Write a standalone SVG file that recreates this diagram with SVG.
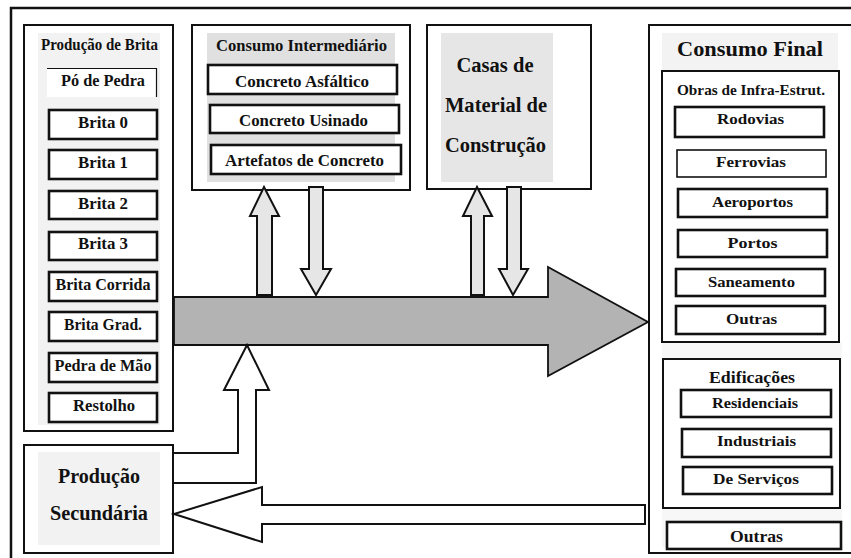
<svg xmlns="http://www.w3.org/2000/svg" width="851" height="558" viewBox="0 0 851 558">
<style>
text{font-family:"Liberation Serif","Times New Roman",serif;font-weight:bold;fill:#111;text-anchor:middle}
.frame{fill:#fff;stroke:#111;stroke-width:2.5}
.box{fill:#fff;stroke:#111;stroke-width:2}
.item{fill:#fff;stroke:#111;stroke-width:2.6}
.thin{fill:#fff;stroke:#111;stroke-width:1.6}
.t15{font-size:15px}
.t16{font-size:16px}
.t20{font-size:20px}
.up{fill:#e6e6e6;stroke:#111;stroke-width:2;stroke-linejoin:miter}
</style>
<rect x="0" y="0" width="851" height="558" fill="#fff"/>
<rect class="frame" x="11" y="8" width="860" height="570"/>

<g id="producao-brita">
<rect class="box" x="24" y="25" width="149" height="406"/>
<rect x="38" y="33" width="122" height="392" fill="#f2f2f2"/>
<text class="t16" x="99.5" y="50" textLength="117" lengthAdjust="spacingAndGlyphs">Produção de Brita</text>
<rect x="47" y="68" width="110" height="29" fill="#fff"/>
<polyline points="47,68.5 156.5,68.5 156.5,97" fill="none" stroke="#111" stroke-width="1.2"/>
<text class="t16" x="103" y="86" textLength="84" lengthAdjust="spacingAndGlyphs">Pó de Pedra</text>
<rect class="item" x="49" y="110" width="108" height="29"/>
<text class="t16" x="103" y="128" textLength="50" lengthAdjust="spacingAndGlyphs">Brita 0</text>
<rect class="item" x="49" y="150" width="108" height="29"/>
<text class="t16" x="103" y="168" textLength="50" lengthAdjust="spacingAndGlyphs">Brita 1</text>
<rect class="item" x="49" y="191" width="108" height="28"/>
<text class="t16" x="103" y="209" textLength="50" lengthAdjust="spacingAndGlyphs">Brita 2</text>
<rect class="item" x="49" y="232" width="108" height="28"/>
<text class="t16" x="103" y="249" textLength="50" lengthAdjust="spacingAndGlyphs">Brita 3</text>
<rect class="item" x="49" y="272" width="108" height="29"/>
<text class="t16" x="103" y="290" textLength="95" lengthAdjust="spacingAndGlyphs">Brita Corrida</text>
<rect class="item" x="49" y="312" width="108" height="29"/>
<text class="t16" x="103" y="330" textLength="78" lengthAdjust="spacingAndGlyphs">Brita Grad.</text>
<rect class="item" x="49" y="353" width="108" height="29"/>
<text class="t16" x="103" y="371" textLength="97" lengthAdjust="spacingAndGlyphs">Pedra de Mão</text>
<rect class="item" x="49" y="393" width="108" height="29"/>
<text class="t16" x="104" y="411" textLength="62" lengthAdjust="spacingAndGlyphs">Restolho</text>
</g>

<g id="consumo-intermediario">
<rect class="box" x="192" y="25" width="218" height="165"/>
<rect x="207" y="33" width="188" height="149" fill="#e0e0e0"/>
<text class="t16" x="301.5" y="51" textLength="171" lengthAdjust="spacingAndGlyphs">Consumo Intermediário</text>
<rect class="item" x="208" y="65" width="189" height="29"/>
<text class="t16" x="302" y="87" textLength="134" lengthAdjust="spacingAndGlyphs">Concreto Asfáltico</text>
<rect class="item" x="210" y="105" width="189" height="28"/>
<text class="t16" x="303.5" y="126" textLength="129" lengthAdjust="spacingAndGlyphs">Concreto Usinado</text>
<rect class="item" x="211" y="145" width="190" height="29"/>
<text class="t16" x="304.5" y="166" textLength="159" lengthAdjust="spacingAndGlyphs">Artefatos de Concreto</text>
</g>

<g id="casas-material">
<rect class="box" x="427" y="25" width="164" height="164"/>
<rect x="441" y="33" width="112" height="149" fill="#e6e6e6"/>
<text class="t20" x="495" y="72" textLength="77" lengthAdjust="spacingAndGlyphs">Casas de</text>
<text class="t20" x="496" y="112" textLength="102" lengthAdjust="spacingAndGlyphs">Material de</text>
<text class="t20" x="495.5" y="152" textLength="101" lengthAdjust="spacingAndGlyphs">Construção</text>
</g>

<g id="consumo-final">
<rect class="box" x="649" y="25" width="210" height="528"/>
<rect x="662" y="33" width="176" height="37" fill="#f3f3f3"/>
<rect x="662" y="342" width="180" height="205" fill="#f7f7f7"/>
<text x="750" y="56" style="font-size:21px" textLength="146" lengthAdjust="spacingAndGlyphs">Consumo Final</text>
<g id="obras-infra">
<rect class="box" x="662" y="71" width="177" height="271"/>
<text class="t15" x="751" y="95" textLength="148" lengthAdjust="spacingAndGlyphs">Obras de Infra-Estrut.</text>
<rect class="item" x="675" y="107" width="149" height="30"/>
<text class="t15" x="750.5" y="124" textLength="67" lengthAdjust="spacingAndGlyphs">Rodovias</text>
<rect class="thin" x="677" y="150" width="149" height="27"/>
<text class="t15" x="751" y="167" textLength="70" lengthAdjust="spacingAndGlyphs">Ferrovias</text>
<rect class="item" x="678" y="189" width="149" height="28"/>
<text class="t15" x="752.5" y="207" textLength="81" lengthAdjust="spacingAndGlyphs">Aeroportos</text>
<rect class="item" x="678" y="230" width="149" height="27"/>
<text class="t15" x="752.5" y="248" textLength="50" lengthAdjust="spacingAndGlyphs">Portos</text>
<rect class="item" x="676" y="269" width="149" height="27"/>
<text class="t15" x="751.5" y="287" textLength="87" lengthAdjust="spacingAndGlyphs">Saneamento</text>
<rect class="item" x="676" y="306" width="149" height="28"/>
<text class="t15" x="751.5" y="324" textLength="51" lengthAdjust="spacingAndGlyphs">Outras</text>
</g>
<g id="edificacoes">
<rect class="box" x="663" y="359" width="177" height="149"/>
<text class="t16" x="752" y="383" textLength="86" lengthAdjust="spacingAndGlyphs">Edificações</text>
<rect class="item" x="681" y="390" width="150" height="27"/>
<text class="t15" x="755" y="408" textLength="86" lengthAdjust="spacingAndGlyphs">Residenciais</text>
<rect class="item" x="682" y="429" width="149" height="28"/>
<text class="t15" x="756.5" y="446" textLength="79" lengthAdjust="spacingAndGlyphs">Industriais</text>
<rect class="item" x="683" y="467" width="149" height="27"/>
<text class="t15" x="756" y="484" textLength="86" lengthAdjust="spacingAndGlyphs">De Serviços</text>
</g>
<rect class="item" x="667" y="522" width="174" height="27"/>
<text class="t16" x="756.5" y="542" textLength="53" lengthAdjust="spacingAndGlyphs">Outras</text>
</g>

<g id="producao-secundaria">
<rect class="box" x="24" y="445" width="149" height="108"/>
<rect x="38" y="452" width="122" height="93" fill="#f2f2f2"/>
<text class="t20" x="99" y="483" textLength="82" lengthAdjust="spacingAndGlyphs">Produção</text>
<text class="t20" x="99" y="520" textLength="98" lengthAdjust="spacingAndGlyphs">Secundária</text>
</g>

<g id="connectors">
<polygon points="174,297 548,297 548,267 648,322 548,376 548,345 174,345" fill="#b3b3b3" stroke="#111" stroke-width="1.8" stroke-linejoin="miter"/>
<polygon class="up" points="257,295 257,216 250,216 264,187 279,216 272,216 272,295"/>
<polygon class="up" points="309,187 323,187 323,269 331,269 316,295 301,269 309,269"/>
<polygon class="up" points="471,295 471,216 463,216 477,187 492,216 484,216 484,295"/>
<polygon class="up" points="507,187 521,187 521,269 528,269 513,295 499,269 507,269"/>
<polygon points="173,453 238,453 238,390 224,390 247,345 269,390 256,390 256,483 173,483" fill="#fff" stroke="#111" stroke-width="2"/>
<polygon points="645,505 262,505 262,487 174,514 262,542 262,524 645,524" fill="#fff" stroke="#111" stroke-width="2"/>
</g>
</svg>
